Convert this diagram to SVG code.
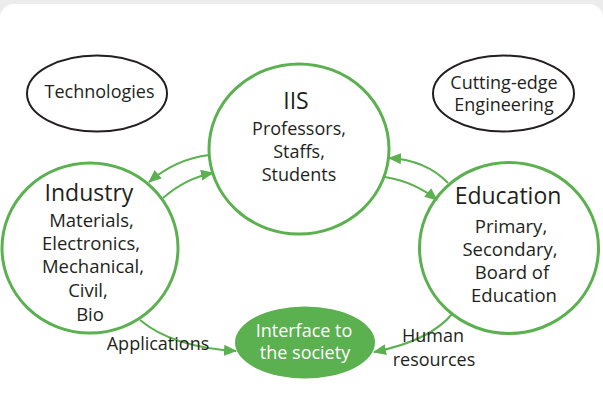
<svg xmlns="http://www.w3.org/2000/svg" width="603" height="418" viewBox="0 0 603 418">
<defs>
<style>
.t{font-family:"Open Sans","Noto Sans",sans-serif;fill:#231f20;text-anchor:middle}
.big{font-size:23px}
.sm{font-size:18.5px}
.lbl{font-size:18px}
.node{fill:#fff;stroke:#5bb04f;stroke-width:3}
.oval{fill:#fff;stroke:#231f20;stroke-width:2}
.conn{fill:none;stroke:#5bb04f;stroke-width:2}
</style>
<marker id="ah" markerUnits="userSpaceOnUse" markerWidth="13" markerHeight="11" refX="12" refY="5.5" orient="auto">
<path d="M0,0 L13,5.5 L0,11 Z" fill="#5bb04f"/>
</marker>
</defs>
<rect x="0" y="0" width="603" height="418" fill="#ececec"/>
<rect x="0" y="4" width="603" height="440" rx="14" fill="#fff"/>

<g id="technologies">
<ellipse class="oval" cx="97" cy="93.5" rx="70" ry="38"/>
<text class="t lbl" x="99.5" y="97.5">Technologies</text>
</g>
<g id="cutting-edge">
<ellipse class="oval" cx="503.5" cy="93.5" rx="70.5" ry="38"/>
<text class="t lbl" x="504" y="89">Cutting-edge</text>
<text class="t lbl" x="504" y="111">Engineering</text>
</g>
<g id="iis">
<ellipse class="node" cx="299" cy="149" rx="90" ry="85"/>
<text class="t big" x="296" y="109">IIS</text>
<text class="t lbl" x="299" y="134.5">Professors,</text>
<text class="t lbl" x="299" y="157.5">Staffs,</text>
<text class="t lbl" x="299" y="180.5">Students</text>
</g>
<g id="industry">
<ellipse class="node" cx="90" cy="248" rx="88" ry="85"/>
<text class="t big" x="89" y="201">Industry</text>
<text class="t sm" x="91.5" y="227">Materials,</text>
<text class="t sm" x="91" y="250">Electronics,</text>
<text class="t sm" x="93" y="273">Mechanical,</text>
<text class="t sm" x="88" y="297">Civil,</text>
<text class="t sm" x="90" y="321">Bio</text>
</g>
<g id="education">
<ellipse class="node" cx="509" cy="248" rx="89.5" ry="85.5"/>
<text class="t big" x="508" y="204">Education</text>
<text class="t sm" x="511" y="233">Primary,</text>
<text class="t sm" x="510" y="256">Secondary,</text>
<text class="t sm" x="512" y="279">Board of</text>
<text class="t sm" x="514" y="302">Education</text>
</g>
<g id="interface">
<ellipse cx="305" cy="342.5" rx="70" ry="36" fill="#5bb04f"/>
<text class="t lbl" x="304" y="337" style="fill:#fff">Interface to</text>
<text class="t lbl" x="305" y="359" style="fill:#fff">the society</text>
</g>

<g id="connectors">
<path class="conn" d="M209,155 Q176,159 149,182" marker-end="url(#ah)"/>
<path class="conn" d="M163,198 Q186,178 213,173" marker-end="url(#ah)"/>
<path class="conn" d="M448,183 Q426,160 389,158" marker-end="url(#ah)"/>
<path class="conn" d="M385,177 Q415,182 437,200" marker-end="url(#ah)"/>
<path class="conn" d="M140,320 Q172,347 236,351" marker-end="url(#ah)"/>
<path class="conn" d="M453,313 Q430,341 374,352" marker-end="url(#ah)"/>
<text class="t lbl" x="158" y="350">Applications</text>
<text class="t lbl" x="433" y="342">Human</text>
<text class="t lbl" x="434" y="366">resources</text>
</g>
</svg>
